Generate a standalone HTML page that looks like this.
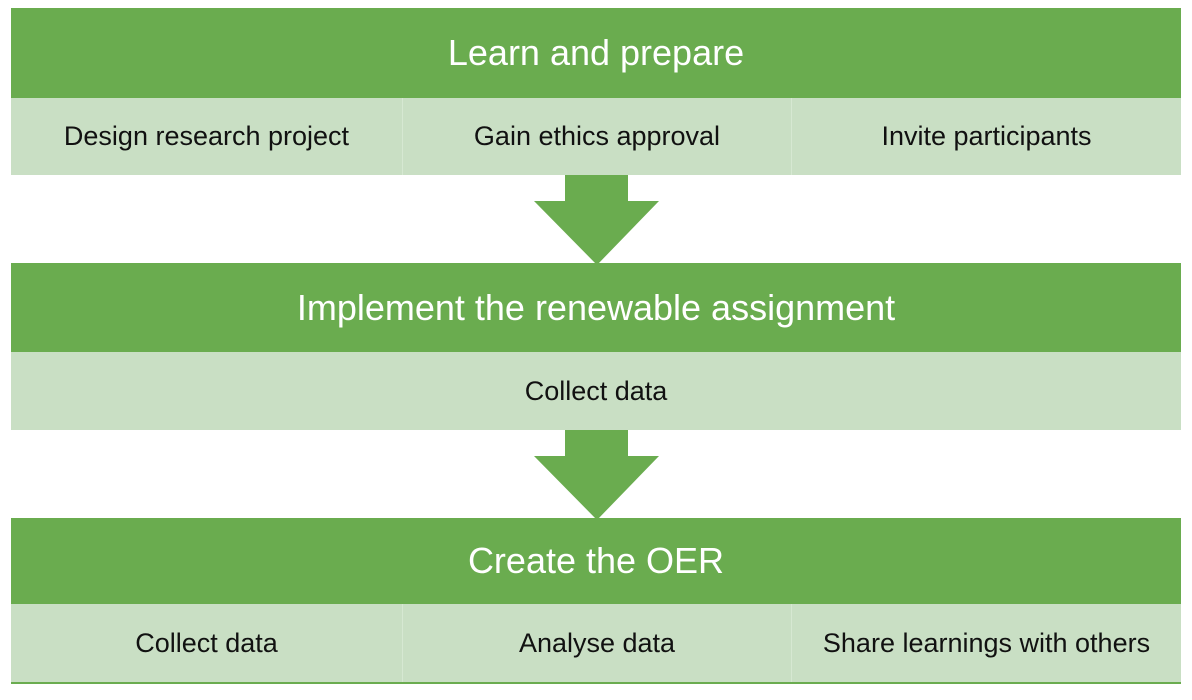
<!DOCTYPE html>
<html><head><meta charset="utf-8"><style>
body{margin:0;width:1192px;height:700px;background:#fff;position:relative;overflow:hidden;font-family:"Liberation Sans",sans-serif}
.g{position:absolute;left:11px;width:1170px;background:#6aac4f;color:#fff;font-size:36px;display:flex;align-items:center;justify-content:center}
.l{position:absolute;left:11px;width:1170px;background:#c9dfc4;display:flex}
.l div{flex:none;display:flex;align-items:center;justify-content:center;font-size:27px;color:#111;height:100%}
.l div+div{border-left:1px solid #d6e8d2}
</style></head><body>
<div class="g" style="top:8px;height:90px">Learn and prepare</div>
<div class="l" style="top:98px;height:77px">
<div style="width:391px">Design research project</div><div style="width:388px">Gain ethics approval</div><div style="width:389px">Invite participants</div></div>
<svg style="position:absolute;left:0;top:0" width="1192" height="700">
<polygon points="565,175 628,175 628,201 659,201 597,265 534,201 565,201" fill="#6aac4f"/>
<polygon points="565,430 628,430 628,456 659,456 597,520 534,456 565,456" fill="#6aac4f"/>
</svg>
<div class="g" style="top:263px;height:89px">Implement the renewable assignment</div>
<div class="l" style="top:352px;height:78px"><div style="width:1170px">Collect data</div></div>
<div class="g" style="top:518px;height:86px">Create the OER</div>
<div class="l" style="top:604px;height:78px">
<div style="width:391px">Collect data</div><div style="width:388px">Analyse data</div><div style="width:389px">Share learnings with others</div></div>
<div style="position:absolute;left:11px;top:682px;width:1170px;height:2px;background:#6aac4f"></div>
</body></html>
